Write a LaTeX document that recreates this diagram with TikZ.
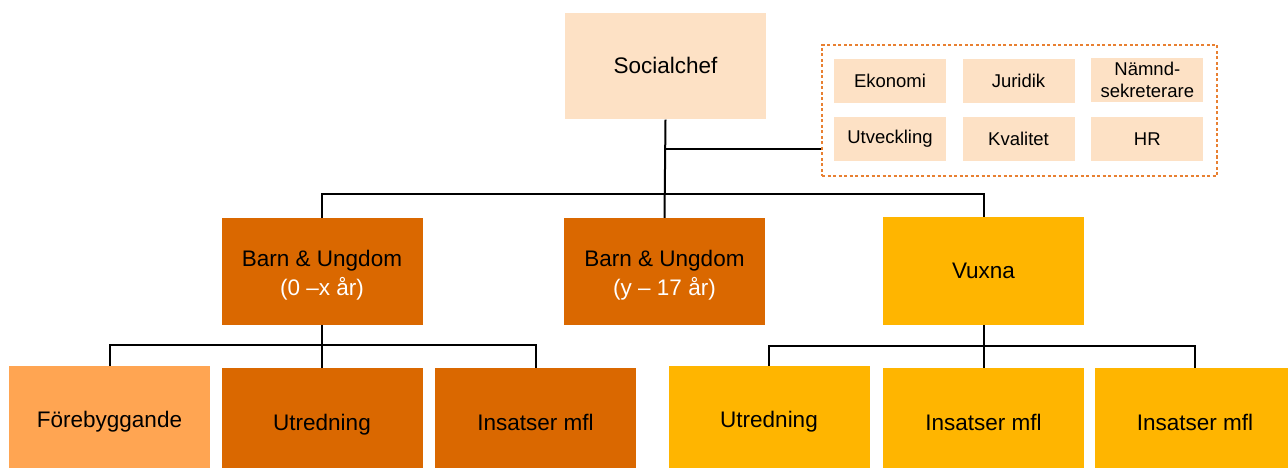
\documentclass[tikz,border=0pt]{standalone}
\usepackage{fontspec}
\setmainfont{Liberation Sans}
\definecolor{peach}{RGB}{253,225,197}
\definecolor{darkor}{RGB}{218,104,0}
\definecolor{lightor}{RGB}{255,165,82}
\definecolor{gold}{RGB}{255,181,0}
\definecolor{dashor}{RGB}{232,128,50}
\tikzset{
  box/.style={draw=none, inner sep=0pt, font=\fontsize{22.5}{29}\selectfont, text=black},
  bigbox/.style={box, minimum width=201pt, minimum height=106pt},
  bl/.style={text height=#1, text depth=0pt},
  two/.style={text height=0pt, text depth=9.6pt},
  smallbox/.style={draw=none, fill=peach, inner sep=0pt, align=center, minimum width=112pt, minimum height=44pt, font=\fontsize{18.5}{22}\selectfont},
  conn/.style={draw=black, line width=2pt},
}
\newcommand{\twolines}[2]{\begin{tabular}[t]{@{}c@{}}#1\\#2\end{tabular}}
\begin{document}
\begin{tikzpicture}[x=1pt,y=-1pt]
\useasboundingbox (0,0) rectangle (1288,468);
% top
\node[bigbox, fill=peach, bl=15pt] (soc) at (665.5,66.5) {Socialchef};
% staff group
\node[draw=dashor, dash pattern=on 3pt off 2.5pt, line width=1.3pt, minimum width=395pt, minimum height=131pt, inner sep=0pt] (staff) at (1019.5,110.5) {};
\node[smallbox] (eko) at (890,81.3) {Ekonomi};
\node[smallbox] (jur) at (1018.5,81.3) {Juridik};
\node[smallbox] (nam) at (1147.3,80.3) {Nämnd-\\sekreterare};
\node[smallbox] (utv) at (890,139) {Utveckling};
\node[smallbox] (kva) at (1018.5,139) {Kvalitet};
\node[smallbox] (hr) at (1147.3,139) {HR};
% middle level
\node[bigbox, fill=darkor, minimum height=107pt, two] (b1) at (322,271.5) {\twolines{Barn \& Ungdom}{\textcolor{white}{(0 –x år)}}};
\node[bigbox, fill=darkor, minimum height=107pt, two] (b2) at (664.5,271.5) {\twolines{Barn \& Ungdom}{\textcolor{white}{(y – 17 år)}}};
\node[bigbox, fill=gold, minimum height=108pt] (vux) at (983.5,271) {Vuxna};
% bottom level
\node[bigbox, fill=lightor, minimum height=108pt, bl=14pt] (fo) at (109.5,420) {Förebyggande};
\node[bigbox, fill=darkor, bl=18pt] (ut1) at (322,421) {Utredning};
\node[bigbox, fill=darkor, bl=18pt] (in1) at (535.5,421) {Insatser mfl};
\node[bigbox, fill=gold, minimum height=108pt, bl=14pt] (ut2) at (769,420) {Utredning};
\node[bigbox, fill=gold, bl=18pt] (in2) at (983.5,421) {Insatser mfl};
\node[bigbox, fill=gold, bl=18pt] (in3) at (1195,421) {Insatser mfl};
% connectors
\coordinate (j0) at (665.5,149);
\coordinate (j1) at (665.5,194);
\coordinate (j2) at (322,345);
\coordinate (j3) at (983.5,346);
\draw[conn] (soc.south) -- (b2.north);
\draw[conn] (j0) -- (j0 -| staff.west);
\draw[conn] (b1.north) |- (j1) -| (vux.north);
\draw[conn] (b1.south) -- (ut1.north);
\draw[conn] (fo.north) |- (j2) -| (in1.north);
\draw[conn] (vux.south) -- (in2.north);
\draw[conn] (ut2.north) |- (j3) -| (in3.north);
\end{tikzpicture}
\end{document}
